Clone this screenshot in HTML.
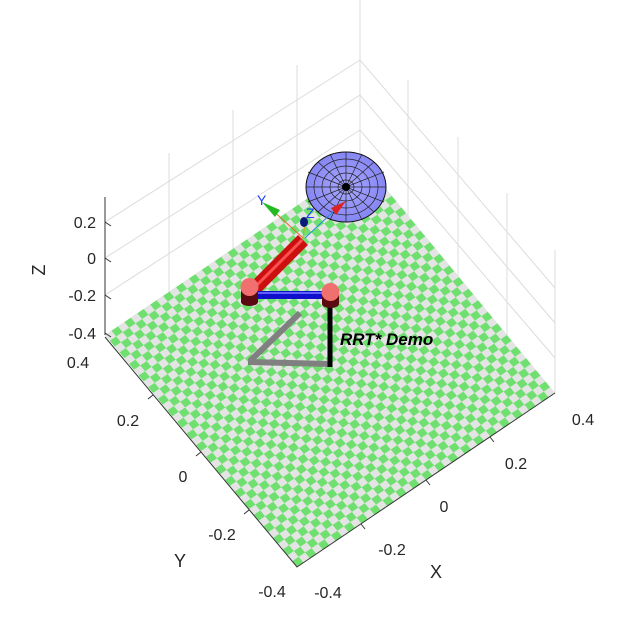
<!DOCTYPE html>
<html><head><meta charset="utf-8"><style>
body{margin:0;background:#fff}
svg text{font-family:"Liberation Sans",sans-serif;fill:#262626}
</style></head><body>
<svg width="641" height="615" viewBox="0 0 641 615" xmlns="http://www.w3.org/2000/svg">
<defs>
<pattern id="ck" patternUnits="userSpaceOnUse" width="2" height="2">
<rect width="2" height="2" fill="#e4e4e4"/>
<rect width="1" height="1" fill="#6fe06f"/>
<rect x="1" y="1" width="1" height="1" fill="#6fe06f"/>
</pattern>
<radialGradient id="sg" cx="0.5" cy="0.5" r="0.5"><stop offset="0" stop-color="#a8a8ff"/><stop offset="1" stop-color="#8686f4"/></radialGradient>
</defs>
<g stroke="#dcdcdc" stroke-width="1" fill="none">
<line x1="169" y1="153" x2="169" y2="294"/>
<line x1="233" y1="110" x2="233" y2="251"/>
<line x1="297" y1="65" x2="297" y2="208"/>
<line x1="360" y1="0" x2="360" y2="165"/>
<line x1="408" y1="80" x2="408" y2="221"/>
<line x1="458" y1="137" x2="458" y2="279"/>
<line x1="507" y1="193" x2="507" y2="336"/>
<line x1="555" y1="250" x2="555" y2="393"/>
<polyline points="105,222 360,60 555,288"/>
<polyline points="105,258 360,95 555,323"/>
<polyline points="105,295 360,130 555,358"/>
</g>
<g transform="matrix(6.45,-4.35,-4.8,-5.8,297,567)">
<rect x="0" y="0" width="40" height="40" fill="url(#ck)"/>
</g>
<g stroke="#333" stroke-width="1" fill="none">
<line x1="105" y1="197" x2="105" y2="335"/>
<polyline points="105,337 297,567 555,393"/>
<line x1="105" y1="222" x2="111" y2="226"/><line x1="105" y1="258" x2="111" y2="262"/>
<line x1="105" y1="295" x2="111" y2="299"/><line x1="105" y1="333" x2="111" y2="337"/>
<line x1="153" y1="395" x2="148" y2="399"/><line x1="201" y1="452" x2="196" y2="456"/>
<line x1="249" y1="510" x2="244" y2="514"/>
<line x1="361" y1="524" x2="365" y2="529"/><line x1="426" y1="480" x2="430" y2="485"/>
<line x1="490" y1="437" x2="494" y2="442"/>
</g>
<g font-size="16" text-anchor="end">
<text x="96" y="228">0.2</text><text x="96" y="264">0</text>
<text x="96" y="301">-0.2</text><text x="96" y="339">-0.4</text>
</g>
<text font-size="18" transform="translate(45,270) rotate(-90)" text-anchor="middle">Z</text>
<g font-size="16" text-anchor="middle">
<text x="78" y="368">0.4</text><text x="128" y="426">0.2</text><text x="183" y="482">0</text>
<text x="222" y="540">-0.2</text><text x="272" y="597">-0.4</text>
<text x="328" y="598">-0.4</text><text x="392" y="555">-0.2</text><text x="444" y="512">0</text>
<text x="516" y="469">0.2</text><text x="583" y="425">0.4</text>
</g>
<text x="180" y="567" font-size="18" text-anchor="middle">Y</text>
<text x="436" y="578" font-size="18" text-anchor="middle">X</text>
<ellipse cx="346" cy="187" rx="40" ry="35" fill="url(#sg)" stroke="#111" stroke-width="1"/>
<g stroke="#222" stroke-width="0.7" fill="none">
<ellipse cx="346" cy="187" rx="32" ry="28"/><ellipse cx="346" cy="187" rx="24" ry="21"/>
<ellipse cx="346" cy="187" rx="16" ry="14"/><ellipse cx="346" cy="187" rx="8" ry="7"/>
<line x1="306" y1="187" x2="386" y2="187"/><line x1="346" y1="152" x2="346" y2="222"/>
<line x1="318" y1="162" x2="374" y2="212"/><line x1="374" y1="162" x2="318" y2="212"/>
<line x1="330" y1="154" x2="362" y2="220"/><line x1="362" y1="154" x2="330" y2="220"/>
<line x1="308" y1="172" x2="384" y2="202"/><line x1="384" y1="172" x2="308" y2="202"/>
</g>
<circle cx="346" cy="187" r="4" fill="#000"/>
<line x1="303" y1="238" x2="270" y2="208" stroke="#e07030" stroke-width="1"/>
<polygon points="262,202 280,210 275,217" fill="#22bb22"/>
<text x="257" y="205" font-size="14" style="fill:#2040ff">Y</text>
<line x1="303" y1="238" x2="305" y2="222" stroke="#e0a000" stroke-width="1"/>
<ellipse cx="304" cy="222" rx="4" ry="5" fill="#0a1a7a"/>
<text x="306" y="218" font-size="14" style="fill:#2040ff">Z</text>
<line x1="305" y1="238" x2="335" y2="210" stroke="#2090d0" stroke-width="1"/>
<polygon points="346,201 331,208 336,215" fill="#dd2222"/>
<line x1="255" y1="288" x2="303" y2="240" stroke="#cc1010" stroke-width="14"/>
<line x1="257" y1="285" x2="302" y2="240" stroke="#ff5050" stroke-width="3"/>
<line x1="250" y1="295" x2="330" y2="295" stroke="#1010cc" stroke-width="8"/>
<line x1="250" y1="293" x2="330" y2="293" stroke="#6060ff" stroke-width="2"/>
<line x1="300" y1="313" x2="250" y2="361" stroke="#808080" stroke-width="6"/>
<line x1="248" y1="362" x2="330" y2="364" stroke="#808080" stroke-width="6"/>
<line x1="330" y1="300" x2="330" y2="367" stroke="#000" stroke-width="5"/>
<rect x="241" y="287" width="17" height="15" fill="#5a0a10"/>
<ellipse cx="249.5" cy="302" rx="8.5" ry="4" fill="#5a0a10"/>
<circle cx="249.5" cy="287" r="9" fill="#f07070"/>
<rect x="322" y="292" width="17" height="12" fill="#5a0a10"/>
<ellipse cx="330.5" cy="304" rx="8.5" ry="4" fill="#5a0a10"/>
<circle cx="330.5" cy="292" r="9" fill="#f07070"/>
<text x="340" y="345" font-size="17" font-weight="bold" font-style="italic" style="fill:#000">RRT* Demo</text>
</svg>
</body></html>
